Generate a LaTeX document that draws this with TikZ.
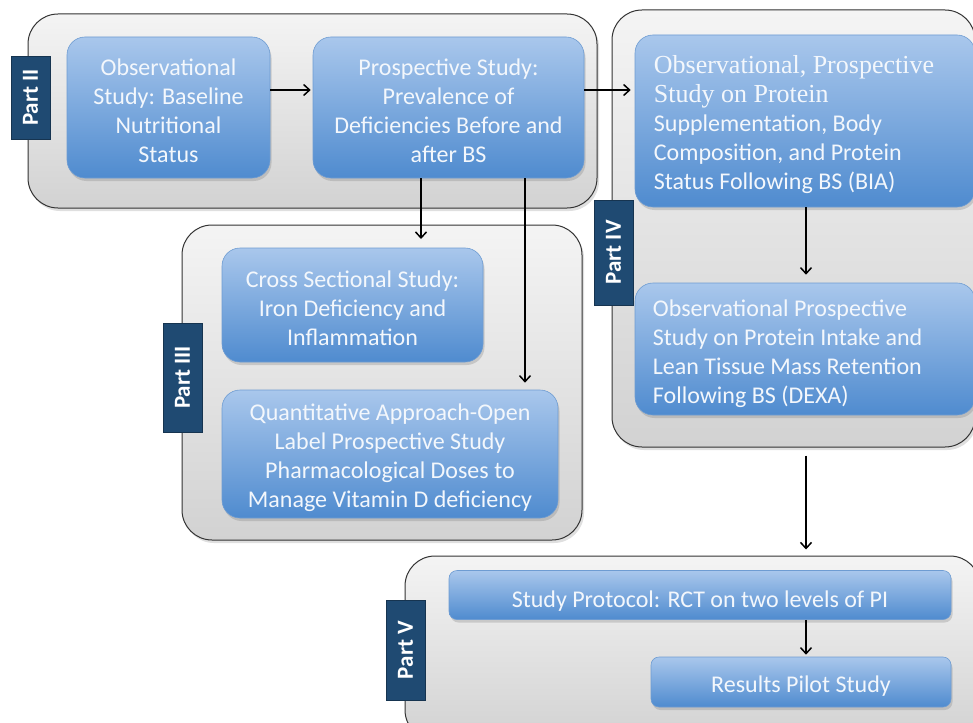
\documentclass[tikz,border=0pt]{standalone}
\usepackage{fontspec}
\setmainfont{Carlito}
\newfontfamily\serifcap{Liberation Serif}
\usetikzlibrary{arrows.meta,shadows,calc}
\definecolor{boxtop}{HTML}{A9C7EC}
\definecolor{boxbot}{HTML}{4F8BCF}
\definecolor{boxline}{HTML}{6E9CD2}
\definecolor{contop}{HTML}{F4F4F4}
\definecolor{conbot}{HTML}{D2D2D2}
\definecolor{navy}{HTML}{1F4A72}
\definecolor{boxtext}{HTML}{F3F7FC}
\begin{document}
\begin{tikzpicture}[x=1pt,y=-1pt,
  container/.style={draw=black!80,line width=1pt,rounded corners=30pt,top color=contop,bottom color=conbot,
    drop shadow={shadow xshift=2pt,shadow yshift=-3pt,opacity=0.25}},
  bluebox/.style={draw=boxline,line width=0.6pt,rounded corners=18pt,top color=boxtop,bottom color=boxbot,
    inner sep=0pt,drop shadow={shadow xshift=1.5pt,shadow yshift=-3pt,opacity=0.3}},
  ctext/.style={text=boxtext,font=\fontsize{24}{29}\selectfont,inner sep=0pt,align=center},
  ltext/.style={text=boxtext,font=\fontsize{24}{29}\selectfont,inner sep=0pt,align=left,anchor=west},
  parttab/.style={fill=navy,draw=navy!70!black,inner sep=0pt},
  tablabel/.style={rotate=90,text=white,font=\fontsize{23}{26}\selectfont\bfseries,inner sep=0pt},
  flow/.style={line width=1.7pt,-{Straight Barb[length=6pt,width=11pt,line width=1.5pt]}}]
\useasboundingbox (0,0) rectangle (973,722);
% containers
\node[container,minimum width=569,minimum height=194] (P2) at (312.5,111) {};
\node[container,minimum width=363,minimum height=437] (P4) at (793.5,228.5) {};
\node[container,minimum width=400,minimum height=315] (P3) at (382,382.5) {};
\node[container,minimum width=575,minimum height=184] (P5) at (692.5,648) {};
% tabs
\node[parttab,minimum width=39,minimum height=83] (L2) at (30.5,97.5) {};
\node[tablabel] (T2) at (L2.center) {Part II};
\node[parttab,minimum width=39,minimum height=105] (L4) at (613.5,252.5) {};
\node[tablabel] (T4) at (L4.center) {Part IV};
\node[parttab,minimum width=39,minimum height=109] (L3) at (182.5,377.5) {};
\node[tablabel] (T3) at (L3.center) {Part III};
\node[parttab,minimum width=39,minimum height=100] (L5) at (405.5,650) {};
\node[tablabel] (T5) at (L5.center) {Part V};
% boxes
\node[bluebox,minimum width=203,minimum height=141] (A) at (168.5,107.5) {};
\node[ctext] (At) at ([yshift=-3pt]A.center) {Observational\\Study: Baseline\\Nutritional\\Status};
\node[bluebox,minimum width=271,minimum height=141] (B) at (448.5,107.5) {};
\node[ctext] (Bt) at ([yshift=-3pt]B.center) {Prospective Study:\\Prevalence of\\Deficiencies Before and\\after BS};
\node[bluebox,minimum width=340,minimum height=172] (C) at (805,121) {};
\node[ltext] (Ct) at ([xshift=19pt,yshift=-4pt]C.west)
  {{\serifcap\fontsize{26}{29}\selectfont Observational, Prospective}\\{\serifcap\fontsize{26}{29}\selectfont Study on Protein}\\Supplementation, Body\\Composition, and Protein\\Status Following BS (BIA)};
\node[bluebox,minimum width=340,minimum height=132] (D) at (805,349) {};
\node[ltext] (Dt) at ([xshift=18pt,yshift=-5pt]D.west)
  {Observational Prospective\\Study on Protein Intake and\\Lean Tissue Mass Retention\\Following BS (DEXA)};
\node[bluebox,minimum width=261,minimum height=114] (E) at (352.5,305) {};
\node[ctext] (Et) at ([yshift=-3pt]E.center) {Cross Sectional Study:\\Iron Deficiency and\\Inflammation};
\node[bluebox,minimum width=336,minimum height=128] (F) at (390,454) {};
\node[ctext] (Ft) at ([yshift=-4pt]F.center) {Quantitative Approach-Open\\Label Prospective Study\\Pharmacological Doses to\\Manage Vitamin D deficiency};
\node[bluebox,rounded corners=8pt,minimum width=502,minimum height=49] (G) at (700,595) {};
\node[ctext] (Gt) at ([yshift=-6pt]G.center) {Study Protocol: RCT on two levels of PI};
\node[bluebox,rounded corners=8pt,minimum width=300,minimum height=50] (H) at (801,682) {};
\node[ctext] (Ht) at ([yshift=-4pt]H.center) {Results Pilot Study};
% connectors
\coordinate (p3in) at (421,239);
\draw[flow] (A.east |- 0,90) -- ([xshift=-2pt]B.west |- 0,90);
\draw[flow] (B.east |- 0,90) -- ([xshift=-4pt]C.west |- 0,90);
\draw[flow] (B.south -| p3in) -- (p3in);
\draw[flow] (B.south -| 525,0) -- ([yshift=7pt]F.north -| 525,0);
\draw[flow] (C.south -| 806,0) -- ([yshift=8pt]D.north -| 806,0);
\draw[flow] ([yshift=-8pt]P4.south -| 806,0) -- ([yshift=6pt]P5.north -| 806,0);
\draw[flow] (G.south -| 806,0) -- ([yshift=2pt]H.north -| 806,0);
\end{tikzpicture}
\end{document}
